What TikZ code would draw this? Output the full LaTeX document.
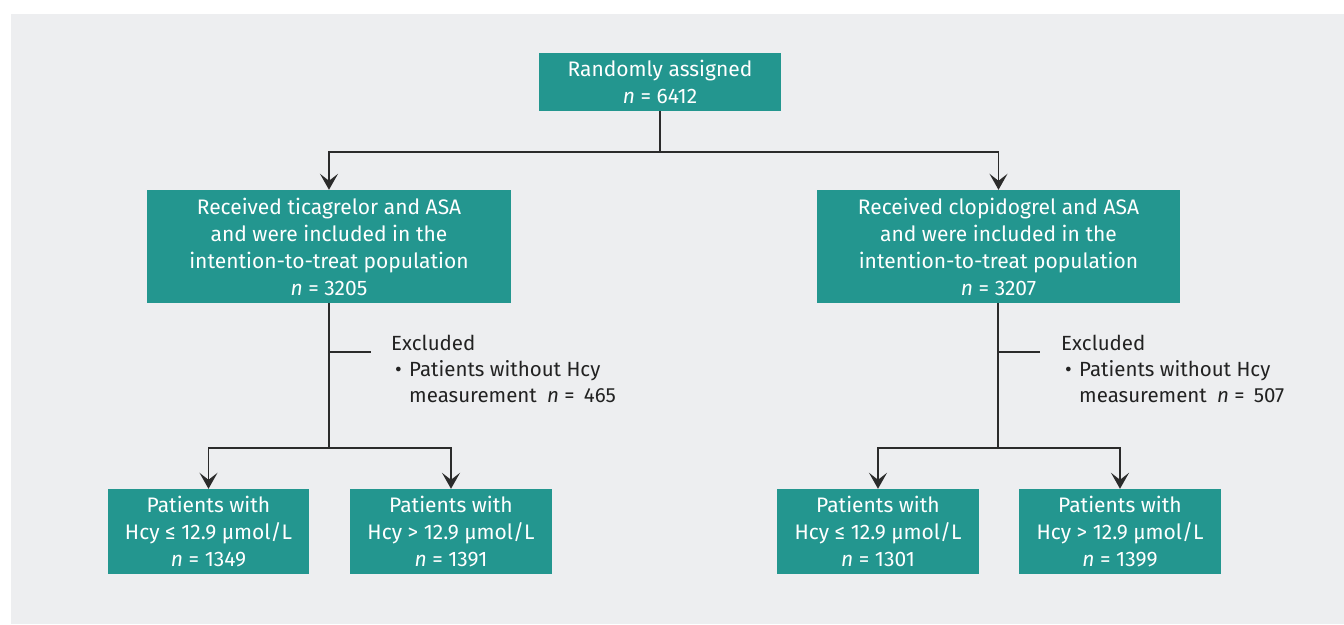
\documentclass[tikz,border=0pt]{standalone}
\usepackage{fontspec}
\setmainfont{Fira Sans}
\usetikzlibrary{arrows.meta}
\definecolor{bgc}{HTML}{EDEEF0}
\definecolor{teal1}{HTML}{23968F}
\definecolor{linec}{HTML}{2B2B2B}
\definecolor{txtc}{HTML}{222222}
\tikzset{
  box/.style={fill=teal1, text=white, align=center, inner sep=0pt, font=\fontsize{21}{27}\selectfont},
  conn/.style={draw=linec, line width=1.4pt},
  arr/.style={conn, -{Stealth[length=16pt,width=18pt,inset=7pt]}},
  lbl/.style={text=txtc, inner sep=0pt, font=\fontsize{20.5}{26}\selectfont, align=left},
}
\begin{document}
\begin{tikzpicture}[x=1pt,y=-1pt]
\useasboundingbox (0,0) rectangle (1344,624);
\fill[white] (0,0) rectangle (1344,624);
\fill[bgc] (11,14) rectangle (1344,624);

\node[box, minimum width=242pt, minimum height=58pt] (top) at (660,82) {Randomly assigned\\\textit{n} = 6412};
\node[box, minimum width=364pt, minimum height=113pt] (lm) at (329,246.5) {Received ticagrelor and ASA\\and were included in the\\intention-to-treat population\\\textit{n} = 3205};
\node[box, minimum width=363pt, minimum height=113pt] (rm) at (998.5,246.5) {Received clopidogrel and ASA\\and were included in the\\intention-to-treat population\\\textit{n} = 3207};

\node[box, minimum width=201pt, minimum height=85pt] (ll) at (208.5,531.5) {Patients with\\Hcy ≤ 12.9 µmol/L\\\textit{n} = 1349};
\node[box, minimum width=202pt, minimum height=85pt] (lr) at (451,531.5) {Patients with\\Hcy > 12.9 µmol/L\\\textit{n} = 1391};
\node[box, minimum width=202pt, minimum height=85pt] (rl) at (878,531.5) {Patients with\\Hcy ≤ 12.9 µmol/L\\\textit{n} = 1301};
\node[box, minimum width=202pt, minimum height=85pt] (rr) at (1120,531.5) {Patients with\\Hcy > 12.9 µmol/L\\\textit{n} = 1399};

\coordinate (j1) at (660,152);
\draw[conn] (top.south) -- (j1);
\draw[arr] (j1) -| (lm.north);
\draw[arr] (j1) -| (rm.north);

\coordinate (j2) at (329,448);
\coordinate (b1) at (329,352);
\coordinate (b1e) at (371,352);
\draw[conn] (lm.south) -- (j2);
\draw[conn] (b1) -- (b1e);
\draw[arr] (j2) -| (ll.north);
\draw[arr] (j2) -| (lr.north);

\coordinate (j3) at (998,448);
\coordinate (b2) at (998,352);
\coordinate (b2e) at (1040,352);
\draw[conn] (rm.south -| j3) -- (j3);
\draw[conn] (b2) -- (b2e);
\draw[arr] (j3) -| (rl.north);
\draw[arr] (j3) -| (rr.north);

\node[lbl, anchor=base west] (exl) at (391,350) {Excluded};
\node[lbl, anchor=base west] (exlb) at (395,376) {•};
\node[lbl, anchor=base west] (exl1) at (409,376) {Patients without Hcy};
\node[lbl, anchor=base west] (exl2) at (409,402) {measurement\hspace{0.5em}\textit{n} =\hspace{0.45em}465};

\node[lbl, anchor=base west] (exr) at (1061,350) {Excluded};
\node[lbl, anchor=base west] (exrb) at (1065,376) {•};
\node[lbl, anchor=base west] (exr1) at (1079,376) {Patients without Hcy};
\node[lbl, anchor=base west] (exr2) at (1079,402) {measurement\hspace{0.5em}\textit{n} =\hspace{0.45em}507};
\end{tikzpicture}
\end{document}
